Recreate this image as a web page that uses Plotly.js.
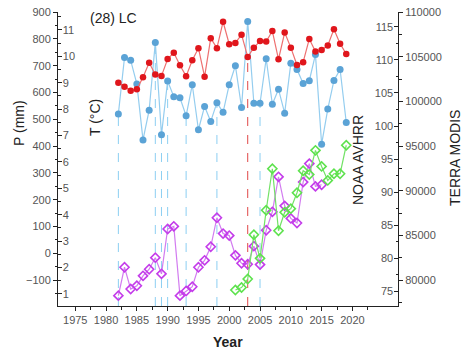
<!DOCTYPE html>
<html>
<head>
<meta charset="utf-8">
<script src="https://cdn.plot.ly/plotly-3.0.1.min.js"></script>
<style>html,body{margin:0;padding:0;background:#fff;}#chart{width:475px;height:355px;}</style>
</head>
<body>
<div id="chart"></div>
<script>
// ---- data ----
const years = [1982,1983,1984,1985,1986,1987,1988,1989,1990,1991,1992,1993,1994,1995,1996,1997,1998,1999,2000,2001,2002,2003,2004,2005,2006,2007,2008,2009,2010,2011,2012,2013,2014,2015,2016,2017,2018,2019];
const precip = [520,731,720,632,423,534,787,442,643,584,580,513,629,461,548,492,562,526,629,700,544,865,560,560,726,556,612,523,709,686,634,644,742,407,538,645,686,488];
const temp = [9.0,8.85,8.7,8.75,9.21,9.76,9.31,9.26,9.9,10.14,9.66,9.25,9.85,10.31,9.23,10.69,10.31,11.31,10.46,10.51,10.82,9.98,10.33,10.58,10.56,10.96,9.89,10.9,10.33,9.67,9.78,10.66,10.18,10.24,10.41,11.03,10.48,10.09];
const noaaYears = [1982,1983,1984,1985,1986,1987,1988,1989,1990,1991,1992,1993,1994,1995,1996,1997,1998,1999,2000,2001,2002,2003,2004,2005,2006,2007,2008,2009,2010,2011,2012,2013,2014,2015];
const noaa = [74.3,78.6,75.3,75.8,77.3,78.3,80.05,77.6,84.4,84.8,74.3,75.0,75.65,78.6,79.65,81.7,86.1,83.7,83.4,80.4,79.2,79.05,81.8,79.0,84.2,87.0,92.3,87.9,86.0,85.3,91.5,94.3,90.85,91.1];
const terraYears = [2001,2002,2003,2004,2005,2006,2007,2008,2009,2010,2011,2012,2013,2014,2015,2016,2017,2018,2019];
const terra = [78880,79160,80110,85070,82430,87810,92460,85510,87590,87990,89770,92230,91810,94520,92720,91150,91900,91900,95090];
const precipChangeYears = [1982,1988,1989,1990,1993,1998,2005];
const tempChangeYears = [2003];
const panelLabel = "(28) LC";

// ---- layout ----
const pRange = [-197, 900.5];
const tRange = [0.545, 11.68];
const tickFont = {family: "Liberation Sans, Arial, sans-serif", size: 11, color: "#555"};

const traces = [
  {x: years, y: precip, yaxis: "y", type: "scatter", mode: "lines+markers",
   line: {color: "#94CDEF", width: 1.2}, marker: {color: "#5BA3D6", size: 7}},
  {x: years, y: temp, yaxis: "y2", type: "scatter", mode: "lines+markers",
   line: {color: "#EE7070", width: 1.2}, marker: {color: "#E0161C", size: 6.5}},
  {x: noaaYears, y: noaa, yaxis: "y3", type: "scatter", mode: "lines+markers",
   line: {color: "#D27CF0", width: 1.2},
   marker: {symbol: "diamond-open", color: "#C43CEA", size: 7, line: {width: 1.6, color: "#C43CEA"}}},
  {x: terraYears, y: terra, yaxis: "y4", type: "scatter", mode: "lines+markers",
   line: {color: "#72E266", width: 1.2},
   marker: {symbol: "diamond-open", color: "#5EE24E", size: 7, line: {width: 1.6, color: "#5EE24E"}}}
];

const shapes = [];
precipChangeYears.forEach(yr => {
  const v = precip[years.indexOf(yr)];
  shapes.push({type: "line", xref: "x", yref: "y", x0: yr, x1: yr, y0: pRange[0], y1: v,
    line: {color: "#8CCFF2", width: 1, dash: "dash"}, layer: "below"});
});
tempChangeYears.forEach(yr => {
  const v = temp[years.indexOf(yr)];
  shapes.push({type: "line", xref: "x", yref: "y2", x0: yr, x1: yr, y0: tRange[0], y1: v,
    line: {color: "#E04848", width: 1, dash: "dash"}, layer: "below"});
});

const L = 58, R = 398, T = 12, B = 306;
const px = v => (v - L) / (R - L);
const py = v => (B - v) / (B - T);
const titleFont = {family: "Liberation Sans, Arial, sans-serif", size: 14, color: "#222"};

const layout = {
  width: 475, height: 355,
  margin: {l: L, r: 475 - R, t: T, b: 355 - B, pad: 0},
  paper_bgcolor: "#fff", plot_bgcolor: "#fff",
  showlegend: false,
  font: tickFont,
  xaxis: {range: [1972.2, 2027.4], tick0: 1975, dtick: 5, ticks: "outside", ticklen: 4,
    tickcolor: "#222", showline: true, linecolor: "#222", linewidth: 1, showgrid: false, zeroline: false,
    tickfont: tickFont, minor: {dtick: 2.5, ticks: "outside", ticklen: 2.5, tickcolor: "#222"}},
  yaxis: {range: pRange, dtick: 100, ticks: "outside", ticklen: 4, tickcolor: "#222",
    showline: true, linecolor: "#222", linewidth: 1, showgrid: false, zeroline: false, tickfont: tickFont,
    minor: {dtick: 50, ticks: "outside", ticklen: 2.5, tickcolor: "#222"}},
  yaxis2: {range: tRange, overlaying: "y", side: "left", anchor: "x", dtick: 1, ticks: "inside",
    ticklabelposition: "inside", ticklen: 4, tickcolor: "#222", showline: false, showgrid: false,
    zeroline: false, tickfont: tickFont, minor: {dtick: 0.5, ticks: "inside", ticklen: 2.5, tickcolor: "#222"}},
  yaxis3: {range: [72.73, 117.27], overlaying: "y", side: "right", anchor: "x", dtick: 5, ticks: "inside",
    ticklabelposition: "inside", ticklen: 4, tickcolor: "#222", showline: false, showgrid: false,
    zeroline: false, tickfont: tickFont, minor: {dtick: 2.5, ticks: "inside", ticklen: 2.5, tickcolor: "#222"}},
  yaxis4: {range: [77090, 110010], overlaying: "y", side: "right", anchor: "x", dtick: 5000, ticks: "outside",
    ticklen: 4, tickcolor: "#222", showline: true, linecolor: "#222", linewidth: 1, showgrid: false,
    zeroline: false, tickfont: tickFont, tickformat: "d",
    minor: {dtick: 2500, ticks: "outside", ticklen: 2.5, tickcolor: "#222"}},
  shapes: shapes,
  annotations: [
    {text: panelLabel, xref: "paper", yref: "paper", x: px(88), y: py(18), xanchor: "left", yanchor: "middle",
     showarrow: false, font: titleFont},
    {text: "P (mm)", xref: "paper", yref: "paper", x: px(19), y: py(123), textangle: -90,
     xanchor: "center", yanchor: "middle", showarrow: false, font: titleFont},
    {text: "T (°C)", xref: "paper", yref: "paper", x: px(95), y: py(118), textangle: -90,
     xanchor: "center", yanchor: "middle", showarrow: false, font: titleFont},
    {text: "NOAA AVHRR", xref: "paper", yref: "paper", x: px(358), y: py(160), textangle: -90,
     xanchor: "center", yanchor: "middle", showarrow: false, font: titleFont},
    {text: "TERRA MODIS", xref: "paper", yref: "paper", x: px(455), y: py(158), textangle: -90,
     xanchor: "center", yanchor: "middle", showarrow: false, font: titleFont},
    {text: "<b>Year</b>", xref: "paper", yref: "paper", x: px(228), y: py(342),
     xanchor: "center", yanchor: "middle", showarrow: false, font: titleFont}
  ]
};

Plotly.newPlot("chart", traces, layout, {displayModeBar: false, staticPlot: true});
</script>
</body>
</html>
